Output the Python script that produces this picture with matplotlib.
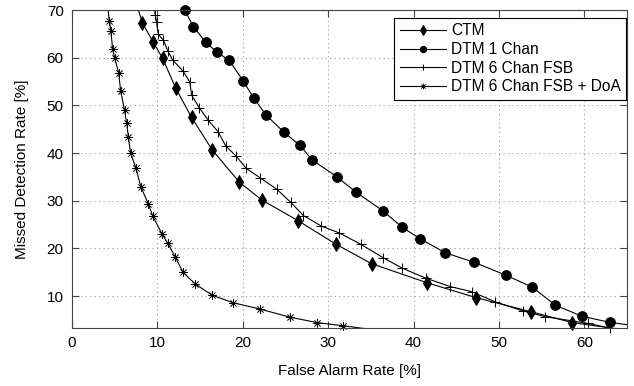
import numpy as np
import matplotlib.pyplot as plt

plt.rcParams['font.family'] = ['Liberation Sans', 'DejaVu Sans']

# values
ctm_fa = [7.5, 8.25, 9.46, 10.6, 12.15, 14.0, 16.4, 19.6, 22.2, 26.5, 30.9, 35.1, 41.6, 47.3, 53.7, 58.6, 66.5]
ctm_md = [71.5, 67.3, 63.4, 59.9, 53.6, 47.5, 40.7, 33.9, 30.2, 25.8, 20.9, 16.8, 12.8, 9.7, 6.75, 4.45, 2.5]

dtm1_fa = [13.2, 14.2, 15.7, 17.0, 18.4, 20.05, 21.3, 22.7, 24.8, 26.7, 28.1, 31.0, 33.2, 36.4, 38.7, 40.8, 43.7,
           47.1, 50.8, 53.9, 56.6, 59.7, 63.0, 68.0]
dtm1_md = [70.0, 66.5, 63.2, 61.1, 59.5, 55.1, 51.5, 48.05, 44.4, 41.6, 38.6, 35.05, 31.9, 27.9, 24.4, 22.0, 19.1,
           17.1, 14.4, 11.9, 8.1, 5.8, 4.5, 3.3]

fsb_fa = [9.6, 9.75, 9.9, 10.1, 10.7, 11.2, 11.8, 13.0, 13.8, 14.0, 14.9, 15.95, 17.1, 18.0, 19.2, 20.4, 22.0, 24.0,
          25.6, 27.1, 29.2, 31.3, 33.8, 36.4, 38.7, 41.4, 44.3, 46.8, 49.5, 52.8, 55.4, 60.4, 63.0]
fsb_md = [71.0, 68.95, 67.5, 64.9, 63.7, 61.5, 59.5, 57.2, 54.9, 52.2, 49.5, 46.9, 44.5, 41.5, 39.4, 36.8, 34.85, 32.4,
          29.7, 26.9, 24.7, 23.25, 20.9, 18.1, 15.85, 13.8, 12.0, 10.95, 8.85, 6.9, 5.7, 4.3, 3.3]

doa_fa = [4.1, 4.36, 4.55, 4.75, 5.0, 5.45, 5.7, 6.15, 6.4, 6.6, 6.85, 7.5, 8.05, 8.95, 9.45, 10.55, 11.2, 12.1,
          13.0, 14.4, 16.4, 18.9, 22.0, 25.5, 28.7, 31.7, 36.0]
doa_md = [72.0, 67.75, 65.6, 61.9, 59.9, 56.9, 53.0, 49.0, 46.25, 43.4, 40.1, 36.8, 32.95, 29.3, 26.8, 23.0, 21.1, 18.2,
          15.0, 12.6, 10.2, 8.6, 7.3, 5.6, 4.45, 3.8, 2.8]

XLIM = (0, 65)
YLIM = (3.3, 70)

fig = plt.figure(figsize=(6.34, 3.86), dpi=100)
ax = fig.add_axes([0.1136, 0.150, 0.8754, 0.824])

series = [
    (ctm_fa, ctm_md, 'd', 7.5, 0.7, 'CTM'),
    (dtm1_fa, dtm1_md, 'o', 7, 0.7, 'DTM 1 Chan'),
    (fsb_fa, fsb_md, '+', 6.5, 0.7, 'DTM 6 Chan FSB'),
    (doa_fa, doa_md, (8, 2, 0), 6, 0.5, 'DTM 6 Chan FSB + DoA'),
]

for fa, md, mk, ms, mew, name in series:
    fa = np.array(fa)
    md = np.array(md)
    ax.plot(fa, md, color='black', lw=0.8, label='_nolegend_')
    inside = (fa >= XLIM[0]) & (fa <= XLIM[1]) & (md >= YLIM[0]) & (md <= YLIM[1])
    ax.plot(fa[inside], md[inside], ls='none', color='black', marker=mk, ms=ms, mew=mew, clip_on=False)
    # legend proxy with smaller marker, like the reference legend
    ax.plot([], [], color='black', lw=0.8, marker=mk, ms=ms * 0.65, mew=mew, label=name)

ax.set_xlim(*XLIM)
ax.set_ylim(*YLIM)
ax.set_xticks(np.arange(0, 61, 10))
ax.set_yticks(np.arange(10, 71, 10))
ax.grid(True, linestyle=(0, (1, 3)), color='#999999', linewidth=0.8)
ax.tick_params(direction='in', top=True, right=True, labelsize=11, length=5, pad=6, color='#444444')
for s in ax.spines.values():
    s.set_color('#444444')
    s.set_linewidth(0.8)

ax.set_xlabel('False Alarm Rate [%]', fontsize=11, labelpad=10)
ax.set_ylabel('Missed Detection Rate [%]', fontsize=11, labelpad=13)

leg = ax.legend(loc='upper right', bbox_to_anchor=(626 / 634, 1 - 18 / 386), bbox_transform=fig.transFigure,
                fontsize=11.2, numpoints=1, fancybox=False, framealpha=1, edgecolor='black',
                handlelength=3.0, borderaxespad=0, labelspacing=0.24, borderpad=0.34, handletextpad=0.3)
leg.get_frame().set_linewidth(0.8)

fig.savefig('out.png', dpi=100)
